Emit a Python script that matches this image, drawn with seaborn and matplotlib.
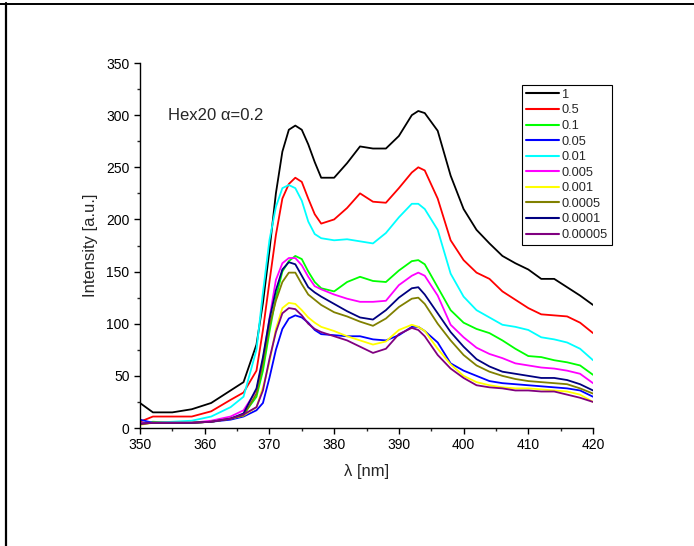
import numpy as np
import pandas as pd
import matplotlib
matplotlib.use('Agg')
import matplotlib.pyplot as plt
from matplotlib.lines import Line2D
import seaborn as sns

# wavelength grid (nm) shared by all spectra
wl = [350, 352, 355, 358, 361, 364, 366, 368, 369, 370, 371, 372, 373, 374, 375,
      376, 377, 378, 380, 382, 384, 386, 388, 390, 392, 393, 394, 396, 398, 400,
      402, 404, 406, 408, 410, 412, 414, 416, 418, 420]

# intensities, one list per concentration
s_1 = [24, 15, 15, 18, 24, 36, 44, 80, 120, 170, 225, 265, 286, 290, 286,
       272, 255, 240, 240, 254, 270, 268, 268, 280, 300, 304, 302, 285, 242, 210,
       190, 177, 165, 158, 152, 143, 143, 135, 127, 118]
s_05 = [6, 11, 11, 11, 16, 27, 34, 55, 94, 140, 185, 220, 234, 240, 236,
        220, 205, 196, 200, 211, 225, 217, 216, 230, 245, 250, 247, 220, 180, 161,
        149, 143, 131, 123, 115, 109, 108, 107, 101, 91]
s_01 = [4, 6, 5, 5, 6, 9, 13, 30, 55, 92, 125, 150, 160, 165, 162,
        150, 140, 134, 131, 140, 145, 141, 140, 151, 160, 161, 157, 135, 113, 101,
        95, 91, 84, 76, 69, 68, 65, 63, 60, 51]
s_005 = [8, 5, 5, 5, 6, 8, 11, 17, 24, 48, 75, 95, 105, 108, 106,
         101, 94, 90, 89, 88, 88, 85, 84, 89, 97, 97, 93, 82, 62, 55,
         50, 45, 43, 42, 41, 40, 39, 38, 36, 30]
s_001 = [5, 5, 6, 7, 11, 20, 30, 75, 130, 180, 212, 230, 233, 230, 218,
         198, 186, 182, 180, 181, 179, 177, 187, 202, 215, 215, 210, 190, 148, 126,
         113, 106, 99, 97, 94, 87, 85, 82, 76, 65]
s_0005 = [5, 5, 5, 5, 7, 11, 17, 36, 65, 105, 142, 158, 163, 163, 156,
          145, 136, 133, 128, 124, 121, 121, 122, 137, 146, 149, 146, 127, 99, 87,
          77, 71, 67, 62, 60, 58, 57, 55, 52, 43]
s_0001 = [3, 5, 5, 5, 6, 9, 12, 20, 39, 63, 95, 115, 120, 119, 113,
          106, 101, 97, 93, 88, 84, 80, 83, 94, 99, 97, 93, 76, 61, 50,
          44, 41, 39, 38, 38, 37, 36, 35, 32, 25]
s_00005 = [4, 5, 5, 5, 6, 9, 12, 33, 62, 98, 122, 140, 149, 149, 138,
           128, 123, 118, 111, 107, 102, 98, 105, 116, 124, 125, 119, 100, 84, 70,
           60, 54, 50, 47, 45, 44, 43, 42, 38, 33]
s_00001 = [4, 5, 5, 5, 6, 9, 14, 38, 68, 104, 132, 152, 159, 157, 146,
           135, 130, 126, 119, 112, 106, 104, 113, 125, 134, 135, 128, 110, 92, 78,
           66, 59, 54, 52, 50, 48, 48, 46, 42, 36]
s_000005 = [4, 5, 5, 5, 6, 9, 13, 20, 36, 66, 92, 110, 115, 114, 108,
            100, 95, 92, 88, 84, 78, 72, 76, 90, 96, 94, 88, 70, 57, 48,
            41, 39, 38, 36, 36, 35, 35, 32, 29, 25]

labels = ['1', '0.5', '0.1', '0.05', '0.01', '0.005', '0.001', '0.0005', '0.0001', '0.00005']
series = [s_1, s_05, s_01, s_005, s_001, s_0005, s_0001, s_00005, s_00001, s_000005]
colors = ['#000000', '#FF0000', '#00FF00', '#0000FF', '#00FFFF',
          '#FF00FF', '#FFFF00', '#808000', '#000080', '#800080']

df = pd.concat([pd.DataFrame({'wl': wl, 'I': s, 'conc': lab})
                for lab, s in zip(labels, series)], ignore_index=True)

sns.set_theme(style='ticks')
plt.rcParams['font.family'] = ['Liberation Sans', 'DejaVu Sans']

fig = plt.figure(figsize=(6.94, 5.46), dpi=100)
ax = fig.add_axes([0.2017, 0.2161, 0.6528, 0.6685])

sns.lineplot(data=df, x='wl', y='I', hue='conc', hue_order=labels,
             palette=colors, linewidth=1.3, sort=False, ax=ax, legend=True)

ax.set_xlim(350, 420)
ax.set_ylim(0, 350)
ax.set_xticks(np.arange(350, 421, 10))
ax.set_yticks(np.arange(0, 351, 50))
ax.set_xticks(np.arange(355, 420, 10), minor=True)
ax.set_yticks(np.arange(25, 350, 50), minor=True)
ax.tick_params(which='major', direction='out', length=4, width=1, labelsize=10, colors='black')
ax.tick_params(which='minor', direction='out', length=2.5, width=1)
for side in ['top', 'right']:
    ax.spines[side].set_visible(False)
for side in ['left', 'bottom']:
    ax.spines[side].set_color('black')
    ax.spines[side].set_linewidth(1)

ax.set_xlabel('λ [nm]', fontsize=12, labelpad=8)
ax.set_ylabel('Intensity [a.u.]', fontsize=12, labelpad=6)
ax.text(354.3, 300, 'Hex20 α=0.2', fontsize=12, va='center', ha='left')

handles, labs = ax.get_legend_handles_labels()
leg = ax.legend(handles, labs, loc='upper left',
                bbox_to_anchor=(522 / 694, 1 - 85 / 546), bbox_transform=fig.transFigure,
                fontsize=9.2, frameon=True, fancybox=False, framealpha=1,
                edgecolor='black', handlelength=2.6, handletextpad=0.2,
                labelspacing=0.28, borderpad=0.3, borderaxespad=0)
leg.get_frame().set_linewidth(0.8)
for ln in leg.get_lines():
    ln.set_linewidth(1.5)

# outer frame lines of the original document cell
fig.add_artist(Line2D([5.5 / 694, 5.5 / 694], [0, 1 - 3 / 546], transform=fig.transFigure,
                      color='black', linewidth=1.6))
fig.add_artist(Line2D([0, 694 / 694], [1 - 3.5 / 546, 1 - 3.5 / 546], transform=fig.transFigure,
                      color='black', linewidth=1.4))

fig.savefig('out.png', dpi=100)
